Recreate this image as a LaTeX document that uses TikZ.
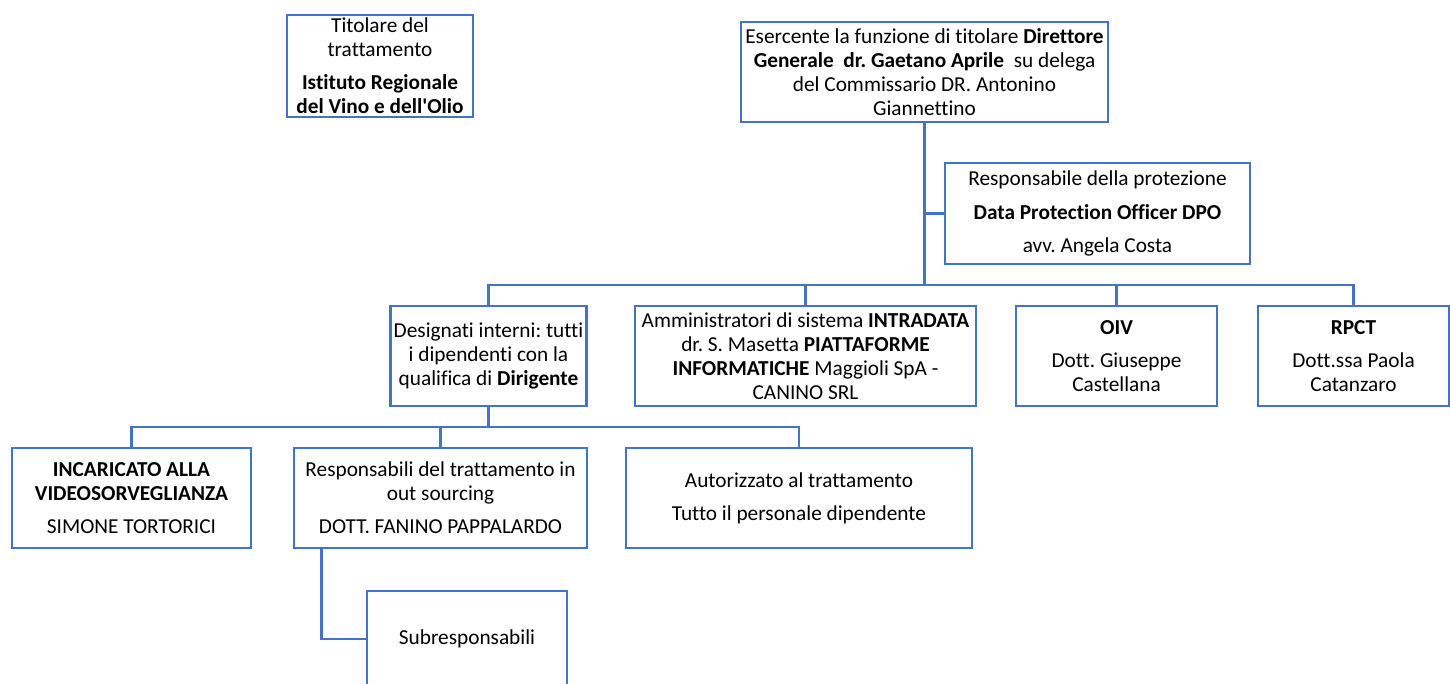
\documentclass[tikz,border=0pt]{standalone}
\usepackage{fontspec}
\setmainfont{Carlito}[Ligatures={NoCommon}]
\usetikzlibrary{calc}
\frenchspacing
\definecolor{orgblue}{HTML}{4472C4}
\newcommand{\orgfont}{\fontsize{21.3}{23.8}\selectfont}
\tikzset{
  orgbox/.style={draw=orgblue, line width=2.7pt, fill=white, align=center,
    inner sep=0pt, font=\orgfont},
  conn/.style={draw=orgblue, line width=2.7pt}
}
\begin{document}
\begin{tikzpicture}[x=1pt,y=-1pt]
    \clip (0,0) rectangle (1450,684);
    \fill[white] (0,0) rectangle (1450,684);
    % top level
    \node[orgbox, minimum width=186pt, minimum height=102pt] (titolare) at (380,66)
        {Titolare del\\trattamento\\[9.5pt]\textbf{Istituto Regionale}\\\textbf{del Vino e dell\textquotesingle Olio}};
    \node[orgbox, minimum width=367pt, minimum height=100pt] (esercente) at (924.5,72)
        {Esercente la funzione di titolare \textbf{Direttore}\\\textbf{Generale\ \ dr. Gaetano Aprile}\ \ su delega\\del Commissario DR. Antonino\\Giannettino};
    \node[orgbox, minimum width=305pt, minimum height=101pt] (dpo) at (1097.5,213.5)
        {Responsabile della protezione\\[9.5pt]\textbf{Data Protection Officer DPO}\\[9.5pt]avv. Angela Costa};
    % second level
    \node[orgbox, minimum width=196pt, minimum height=100pt] (designati) at (488.5,356)
        {Designati interni: tutti\\i dipendenti con la\\qualifica di \textbf{Dirigente}};
    \node[orgbox, minimum width=341pt, minimum height=100pt] (amministratori) at (805.5,356)
        {Amministratori di sistema \textbf{INTRADATA}\\dr. S. Masetta \textbf{PIATTAFORME}\\\textbf{INFORMATICHE} Maggioli SpA -\\CANINO SRL};
    \node[orgbox, minimum width=201pt, minimum height=100pt] (oiv) at (1116.5,356)
        {\textbf{OIV}\\[9.5pt]Dott. Giuseppe\\Castellana};
    \node[orgbox, minimum width=191pt, minimum height=100pt] (rpct) at (1353.5,356)
        {\textbf{RPCT}\\[9.5pt]Dott.ssa Paola\\Catanzaro};
    % third level
    \node[orgbox, minimum width=239pt, minimum height=100pt] (incaricato) at (131.5,498)
        {\textbf{INCARICATO ALLA}\\\textbf{VIDEOSORVEGLIANZA}\\[9.5pt]SIMONE TORTORICI};
    \node[orgbox, minimum width=293pt, minimum height=100pt] (responsabili) at (440.5,498)
        {Responsabili del trattamento in\\out sourcing\\[9.5pt]DOTT. FANINO PAPPALARDO};
    \node[orgbox, minimum width=346pt, minimum height=100pt] (autorizzato) at (799,498)
        {Autorizzato al trattamento\\[9.5pt]Tutto il personale dipendente};
    \node[orgbox, minimum width=200pt, minimum height=96pt] (subresp) at (467,639)
        {Subresponsabili};
    % connectors
    \coordinate (bar) at (0,285);
    \coordinate (bartwo) at (0,427);
    \draw[conn] (esercente.south) -- (esercente.south |- bar);
    \draw[conn] (esercente.south |- dpo.west) -- (dpo.west);
    \draw[conn] (designati.north) -- (designati.north |- bar) -| (rpct.north);
    \draw[conn] (amministratori.north) -- (amministratori.north |- bar);
    \draw[conn] (oiv.north) -- (oiv.north |- bar);
    \draw[conn] (designati.south) -- (designati.south |- bartwo);
    \draw[conn] (incaricato.north) -- (incaricato.north |- bartwo) -| (autorizzato.north);
    \draw[conn] (responsabili.north) -- (responsabili.north |- bartwo);
    \draw[conn] ([xshift=29pt]responsabili.south west) |- (subresp.west);
\end{tikzpicture}
\end{document}
